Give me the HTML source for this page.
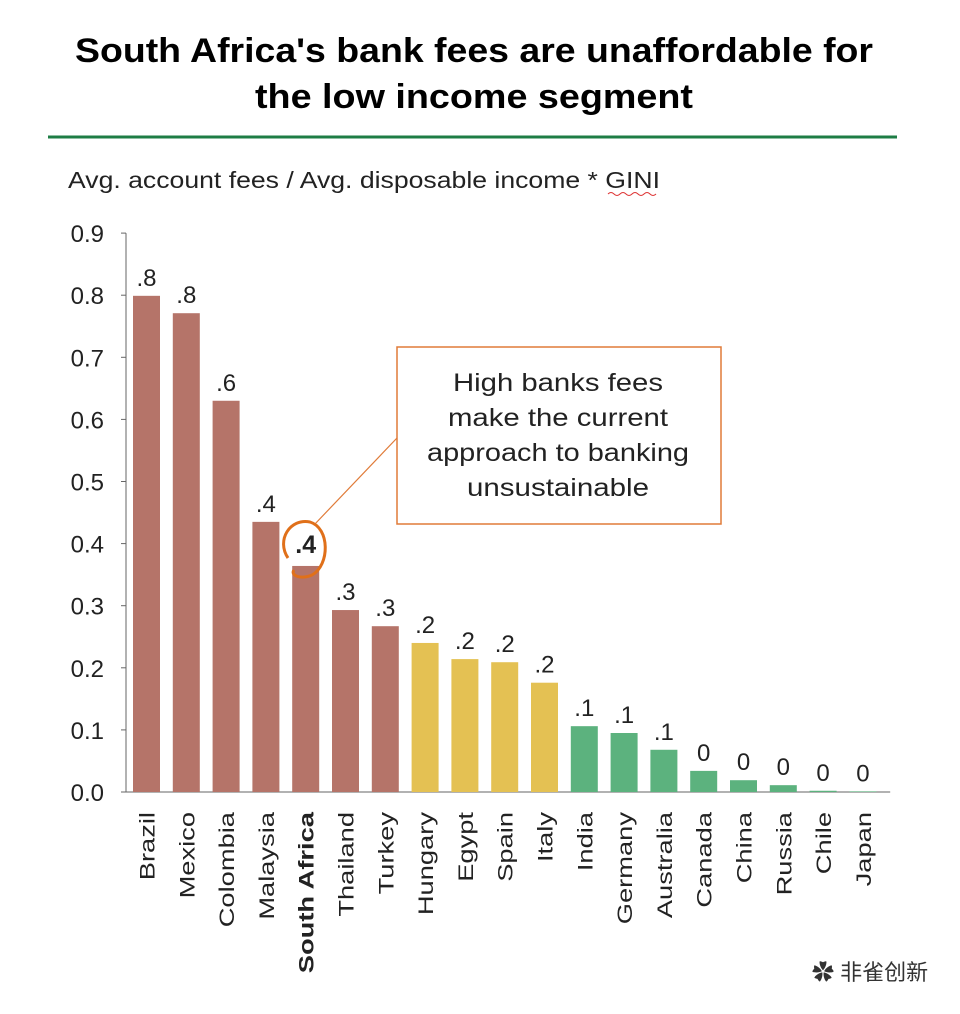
<!DOCTYPE html>
<html><head><meta charset="utf-8"><style>
body{margin:0;background:#fff;}
svg{display:block;font-family:"Liberation Sans","Noto Sans CJK SC",sans-serif;}
</style></head><body>
<svg id="c" width="960" height="1014" viewBox="0 0 960 1014">
<text x="474" y="62" text-anchor="middle" font-size="34" font-weight="bold" fill="#000" textLength="798" lengthAdjust="spacingAndGlyphs">South Africa's bank fees are unaffordable for</text>
<text x="474" y="108" text-anchor="middle" font-size="34" font-weight="bold" fill="#000" textLength="438" lengthAdjust="spacingAndGlyphs">the low income segment</text>
<line x1="48" y1="137" x2="897" y2="137" stroke="#1e7d45" stroke-width="3"/>
<text x="68" y="188" font-size="23" fill="#222" textLength="592" lengthAdjust="spacingAndGlyphs">Avg. account fees / Avg. disposable income * GINI</text>
<path d="M608 194 q3 -3 6 0 t6 0 t6 0 t6 0 t6 0 t6 0 t6 0 t6 0" stroke="#d33" fill="none" stroke-width="1"/>
<g id="axes"></g><g id="bars"></g>
<rect x="397" y="347" width="324" height="177" fill="#fff" stroke="#e07b39" stroke-width="1.5"/>
<g font-size="25" fill="#222" text-anchor="middle">
<text x="558" y="391" textLength="210" lengthAdjust="spacingAndGlyphs">High banks fees</text><text x="558" y="426" textLength="220" lengthAdjust="spacingAndGlyphs">make the current</text><text x="558" y="461" textLength="262" lengthAdjust="spacingAndGlyphs">approach to banking</text><text x="558" y="496" textLength="182" lengthAdjust="spacingAndGlyphs">unsustainable</text></g>
<line x1="397" y1="438" x2="314" y2="525" stroke="#e07b39" stroke-width="1.2"/>
<path d="M288 558 C276 540 290 518 310 522 C330 528 330 565 312 575 C300 580 290 575 294 570" stroke="#e0701a" stroke-width="3" fill="none"/>
<text x="812" y="980" font-size="22" fill="#333">✿ 非雀创新</text>
</svg>
<script>
const categories=["Brazil","Mexico","Colombia","Malaysia","South Africa","Thailand","Turkey","Hungary","Egypt","Spain","Italy","India","Germany","Australia","Canada","China","Russia","Chile","Japan"];
const values=[0.799,0.771,0.63,0.435,0.364,0.293,0.267,0.24,0.214,0.209,0.176,0.106,0.095,0.068,0.034,0.019,0.011,0.002,0.001];
const valueLabels=[".8",".8",".6",".4",".4",".3",".3",".2",".2",".2",".2",".1",".1",".1","0","0","0","0","0"];
const groups=["high","high","high","high","high","high","high","mid","mid","mid","mid","low","low","low","low","low","low","low","low"];
const yTicks=[0,0.1,0.2,0.3,0.4,0.5,0.6,0.7,0.8,0.9];
const colors={high:"#b57469",mid:"#e4c153",low:"#5cb27e"};
const NS="http://www.w3.org/2000/svg";
const y0=792,pxPer=621,x0=126,step=39.8,bw=27;
const yS=v=>y0-v*pxPer, xS=i=>x0+7+i*step;
function mk(t,a,p){const e=document.createElementNS(NS,t);for(const k in a)e.setAttribute(k,a[k]);p.appendChild(e);return e;}
const ax=document.getElementById('axes'),bg=document.getElementById('bars');
const yl=mk('line',{x1:x0,y1:yS(0.9),x2:x0,y2:y0,stroke:'#666'},ax);


const xl=mk('line',{x1:x0,y1:y0,x2:x0+categories.length*step+8,y2:y0,stroke:'#666'},ax);


yTicks.forEach(v=>{
 mk('line',{x1:x0-5,y1:yS(v),x2:x0,y2:yS(v),stroke:'#666'},ax);
 const t=mk('text',{x:x0-22,y:yS(v)+9,'text-anchor':'end','font-size':24,fill:'#222'},ax);t.textContent=v.toFixed(1);
 
 
});
categories.forEach((c,i)=>{
 const x=xS(i);
 const r=mk('rect',{x:x,y:yS(values[i]),width:bw,height:values[i]*pxPer,fill:colors[groups[i]]},bg);
 
 
 const sa=c==="South Africa";
 const lt=mk('text',{x:x+bw/2,y:yS(values[i])-(sa?13:10),'text-anchor':'middle','font-size':sa?25:24,'font-weight':sa?'bold':'normal',fill:'#222'},bg);
 lt.textContent=valueLabels[i];
 
 
 const xt=mk('text',{x:0,y:0,transform:`translate(${x+bw/2+8},812) rotate(-90) scale(1.3,1)`,'text-anchor':'end','font-size':21,'font-weight':sa?'bold':'normal',fill:'#222'},bg);
 xt.textContent=c;
 
 
});
</script>
</body></html>
